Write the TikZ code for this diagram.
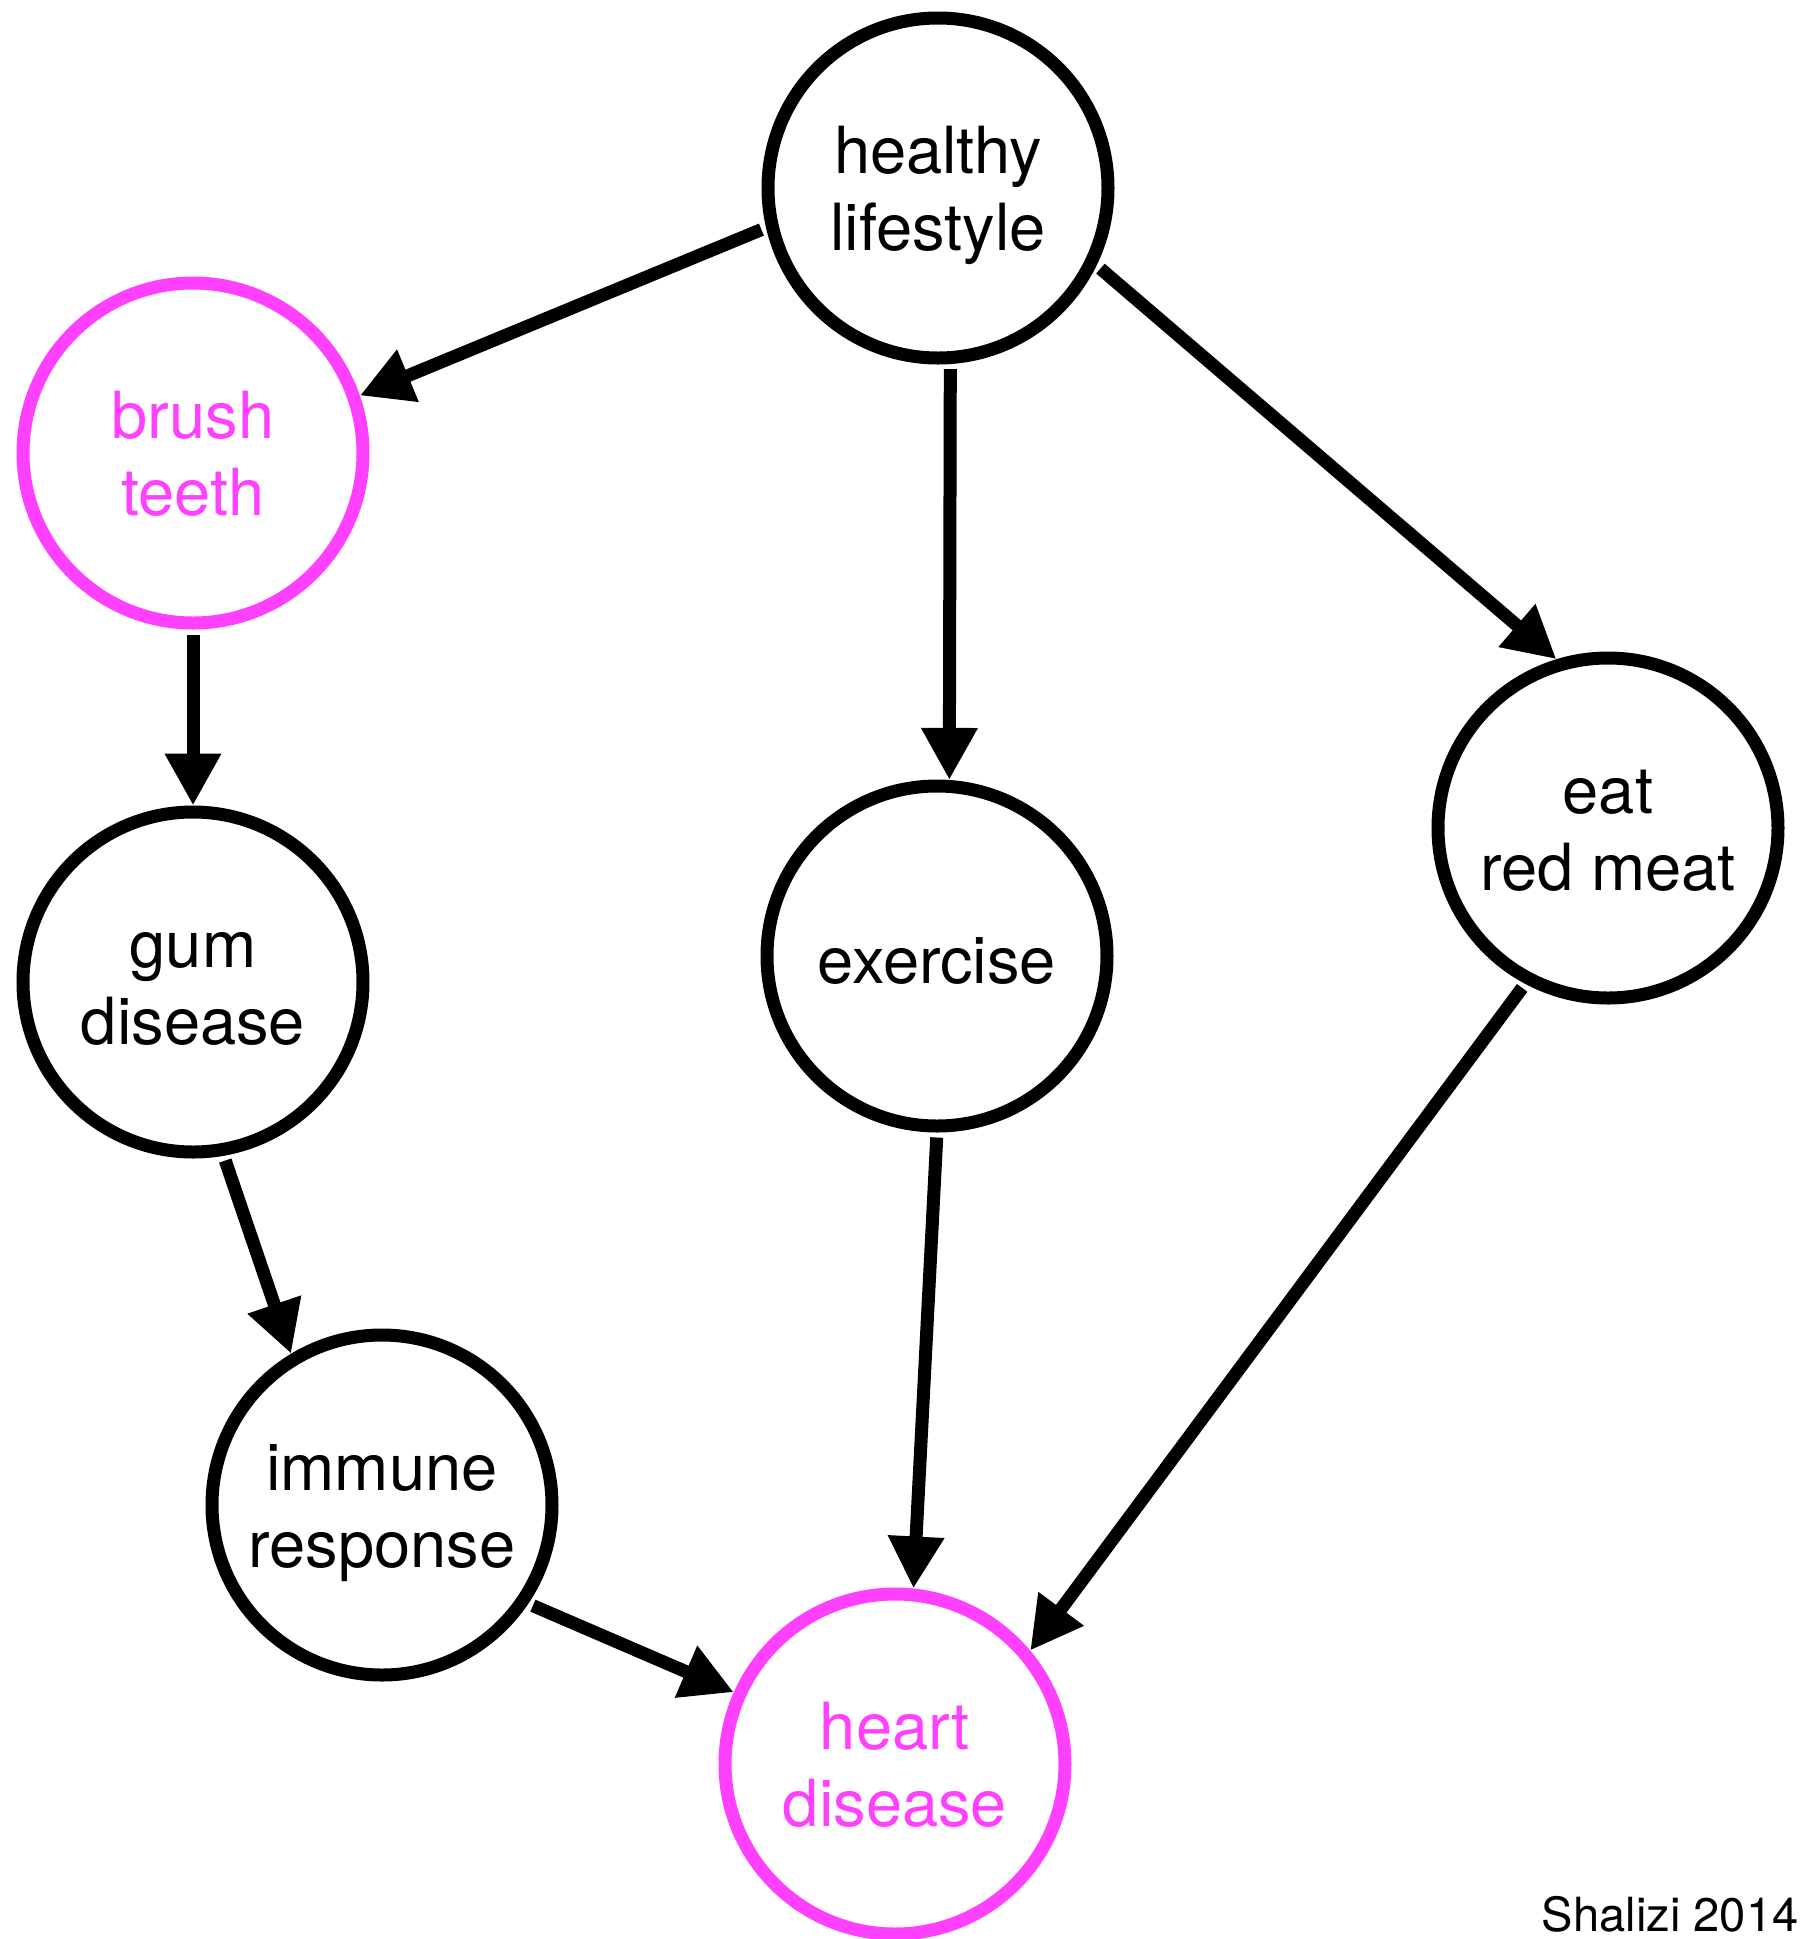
\documentclass[tikz,border=0pt]{standalone}
\usepackage{fontspec}
\setmainfont{TeX Gyre Heros}
\usetikzlibrary{arrows.meta}
\definecolor{causemag}{RGB}{255,64,255}

\begin{document}
\begin{tikzpicture}[line width=0.13cm,
  varnode/.style={draw,circle,minimum size=3.4cm,inner sep=0pt,align=center,
    font=\fontsize{18.5}{22}\selectfont,text height=37.4pt,text depth=1.6pt},
  oneline/.style={text height=17pt},
  picked/.style={varnode,draw=causemag,text=causemag},
  causal/.style={-{Triangle[length=0.52cm,width=0.53cm]},shorten <=0.05cm}]
\useasboundingbox (0,0) rectangle (18.09,-19.39);

\node[varnode] (healthy) at (9.38,-1.88) {healthy\\lifestyle};
\node[picked] (brush) at (1.93,-4.53) {brush\\teeth};
\node[varnode] (gum) at (1.93,-9.82) {gum\\disease};
\node[varnode,oneline] (exercise) at (9.37,-9.56) {exercise};
\node[varnode] (eat) at (16.08,-8.28) {eat\\red meat};
\node[varnode] (immune) at (3.82,-15.05) {immune\\response};
\node[picked] (heart) at (8.95,-17.64) {heart\\disease};

\draw[causal] (healthy.193) -- (brush.19.7);
\draw[causal] (healthy.-86.5) -- (exercise.86.3);
\draw[causal] (healthy.-26) -- (eat.107);

\draw[causal] (brush.-90) -- (gum.90);
\draw[causal] (gum.-80.5) -- (immune.121);

\draw[causal] (immune.-34.4) -- (heart.156.8);
\draw[causal] (exercise.-90) -- (heart.84.3);
\draw[causal] (eat.242) -- (heart.40.2);

\node[anchor=base east,inner sep=0pt,font=\fontsize{13.4}{16}\selectfont] (credit) at (18.05,-19.31) {Shalizi 2014};
\end{tikzpicture}
\end{document}
